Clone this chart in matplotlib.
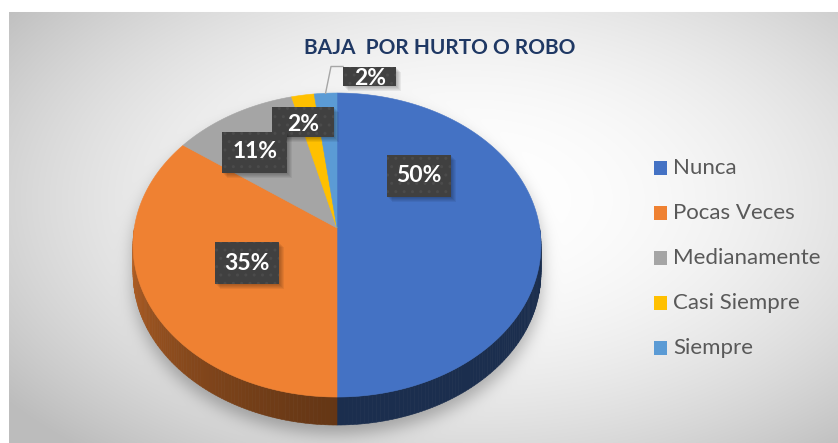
import numpy as np
import matplotlib
matplotlib.use('Agg')
import matplotlib.pyplot as plt
from matplotlib.path import Path
from matplotlib.patches import Polygon, Rectangle

# ---------------- data ----------------
categories = ['Nunca', 'Pocas Veces', 'Medianamente', 'Casi Siempre', 'Siempre']
percentages = [50, 35, 11, 2, 2]
label_texts = ['50%', '35%', '11%', '2%', '2%']
title = 'BAJA  POR HURTO O ROBO'

# ---------------- style / layout ----------------
colors = ['#4472C4', '#EF8132', '#A5A5A5', '#FFC000', '#5B9BD5']
LABEL_TEXT_POS = [(419, 176), (247, 263), (255, 151), (303, 124), (370, 78)]
LABEL_BOX = [(419, 176, 64, 42), (247, 263, 64, 42), (254.5, 152.5, 65, 41),
             (303, 122, 62, 30), (369.5, 76.5, 53, 19)]
W, H = 838, 443
CX, CY = 337, 228          # projected centre of the top face
A, B, K = 202.7, 150.1, 0.112
DEPTH = 28
FONT = ['Lato', 'DejaVu Sans']

fig = plt.figure(figsize=(W / 100, H / 100), dpi=100)
ax = fig.add_axes([0, 0, 1, 1])
ax.set_xlim(0, W)
ax.set_ylim(H, 0)
ax.axis('off')


def proj(theta_deg, dy=0.0):
    t = np.radians(theta_deg)
    u, v = np.sin(t), np.cos(t)
    d = 1 + K * v
    return CX + A * u / d, CY - B * v / d + dy


# ---------------- background with gradient and pie shadow ----------------
yy, xx = np.mgrid[0:H, 0:W] + 0.5
dist = np.sqrt(((xx - 470) / 520) ** 2 + ((yy - 200) / 300) ** 2)
val = np.clip(1 - 0.21 * dist ** 2, 0.74, 1.0)

th = np.linspace(0, 360, 721)
px, py = proj(th)
top_path = Path(np.column_stack([px, py]))
pts = np.column_stack([xx.ravel(), yy.ravel()])
mask = top_path.contains_points(pts).reshape(H, W).astype(float)
sil = mask.copy()
for off in range(1, DEPTH + 1):
    sil = np.maximum(sil, np.roll(mask, off, axis=0))
shadow = np.roll(sil, 9, axis=0)


def blur(img, sigma):
    r = int(3 * sigma)
    k = np.exp(-0.5 * (np.arange(-r, r + 1) / sigma) ** 2)
    k /= k.sum()
    img = np.apply_along_axis(lambda m: np.convolve(m, k, mode='same'), 0, img)
    img = np.apply_along_axis(lambda m: np.convolve(m, k, mode='same'), 1, img)
    return img


shadow = blur(shadow, 8)
val = val * (1 - 0.28 * shadow)
val[:, :9] = 1.0
val[:12, :] = 1.0
img = np.dstack([val, val, val])
ax.imshow(img, extent=(0, W, H, 0), interpolation='bilinear', zorder=0, aspect='auto')

# ---------------- pie ----------------
total = sum(percentages)
starts = np.cumsum([0] + percentages[:-1]) / total * 360
ends = np.cumsum(percentages) / total * 360


def shade(theta):
    if theta <= 180:
        return 0.40
    return 0.42 + 0.35 * ((theta - 180) / 90) ** 1.2


# sides (front half only)
for s, e, c in zip(starts, ends, colors):
    lo, hi = max(s, 90), min(e, 270)
    if lo >= hi:
        continue
    base = np.array(matplotlib.colors.to_rgb(c))
    for t0 in np.arange(lo, hi, 1.0):
        t1 = min(t0 + 1.0, hi)
        x0, y0 = proj(t0)
        x1, y1 = proj(t1)
        col = np.clip(base * shade((t0 + t1) / 2), 0, 1)
        ax.add_patch(Polygon([(x0, y0), (x1, y1), (x1, y1 + DEPTH), (x0, y0 + DEPTH)],
                             closed=True, fc=col, ec=col, lw=0.4, zorder=2))

# top faces
for s, e, c in zip(starts, ends, colors):
    tt = np.linspace(s, e, max(int((e - s) * 2), 2))
    ax_, ay_ = proj(tt)
    verts = [(CX, CY)] + list(zip(ax_, ay_))
    ax.add_patch(Polygon(verts, closed=True, fc=c, ec=c, lw=0.4, zorder=3))

# ---------------- data labels ----------------
clip_rect = Rectangle((0, 66.5), W, H, transform=ax.transData)
n = len(label_texts)
for i, txt in enumerate(label_texts):
    bx, by, bw, bh = LABEL_BOX[i]
    z = 6 + (n - i) * 0.1
    parts = []
    for o in (1, 2, 3, 4, 5):
        sh = Rectangle((bx - bw / 2 + o, by - bh / 2 + o), bw, bh, fc='black',
                       ec='none', alpha=0.06, zorder=z - 0.02)
        ax.add_patch(sh)
        parts.append(sh)
    box = Rectangle((bx - bw / 2, by - bh / 2), bw, bh, fc='#404040', ec='#4b4b4b',
                    lw=0, hatch='..', zorder=z)
    ax.add_patch(box)
    parts.append(box)
    tx, ty = LABEL_TEXT_POS[i]
    t = ax.text(tx, ty, txt, ha='center', va='center', fontsize=16.5,
                fontweight='bold', color='white', family=FONT, zorder=z + 0.05)
    parts.append(t)
    if i == n - 1:
        for p in parts:
            p.set_clip_path(clip_rect)

# leader line for the last label
mx, my = proj((starts[-1] + ends[-1]) / 2)
ax.plot([mx, 331, 343], [my, 66.5, 66.5], color='#A6A6A6', lw=1.0, zorder=5)

# ---------------- title ----------------
ax.text(440, 48, title, ha='center', va='center', fontsize=15, fontweight='bold',
        color='#1F3864', family=FONT, zorder=6)

# ---------------- legend ----------------
for i, cat in enumerate(categories):
    y = 168 + i * 45
    ax.add_patch(Rectangle((654, y - 7), 13, 14, fc=colors[i], ec='none', zorder=6))
    ax.text(673, y, cat, ha='left', va='center', fontsize=16, color='#595959',
            family=FONT, zorder=6)

fig.savefig('out.png', dpi=100)
